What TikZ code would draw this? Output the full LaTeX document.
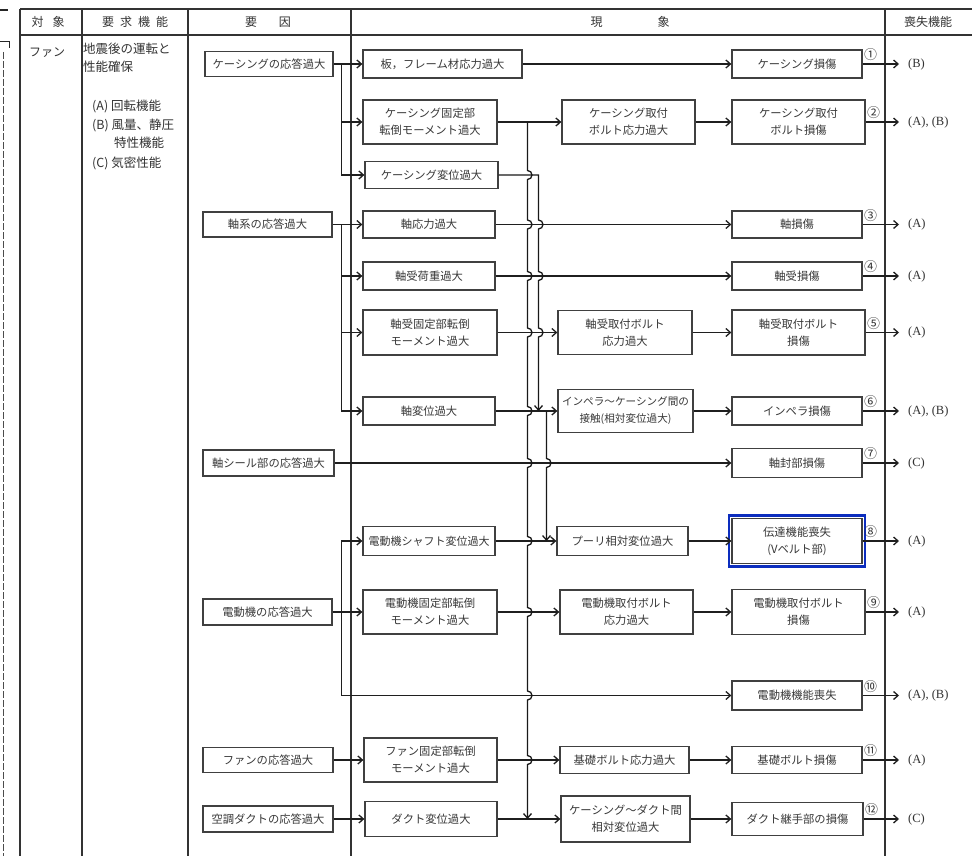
\documentclass[tikz,border=0pt]{standalone}
\usepackage{fontspec}
\setmainfont{Noto Sans CJK JP}
\newfontfamily\latf{Liberation Serif}
\usetikzlibrary{arrows.meta,calc}
\begin{document}
\begin{tikzpicture}[x=1pt,y=-1pt,
  bx/.style={draw=black!75, line width=1.3pt, inner sep=0pt, align=center, text=black!78, font=\fontsize{11.3}{17}\selectfont},
  wh/.style 2 args={minimum width=#1pt, minimum height=#2pt},
  ln/.style={draw=black!88, line width=1.3pt},
  arr/.style={ln, -{Straight Barb[length=4.5pt,width=8pt]}},
  grid/.style={draw=black!80, line width=1.2pt},
  hd/.style={font=\fontsize{12}{14}\selectfont, text=black!80, inner sep=0pt},
  lt/.style={font=\fontsize{12.5}{15}\selectfont, text=black!80, inner sep=0pt, anchor=west},
  cn/.style={font=\fontsize{13}{14}\selectfont, text=black!80, inner sep=0pt},
  lb/.style={font=\latf\fontsize{12.5}{14}\selectfont, text=black!80, anchor=west, inner sep=0pt},
]
\useasboundingbox (0,0) rectangle (972,856);
\fill[white] (0,0) rectangle (972,856);

% scan artefacts at left edge
\draw[line width=1.4pt, black!85] (0,10) -- (8,10);
\draw[line width=1pt, black!85] (0,42) -- (9,42) -- (9,48);
\draw[line width=0.8pt, black!70, dash pattern=on 7pt off 2pt] (3,52) -- (3,856);

% table grid
\draw[grid] (20,9) -- (972,9);
\draw[grid] (20,35) -- (972,35);
\foreach \xx in {20,82,188,351,885} \draw[grid] (\xx,9) -- (\xx,856);

% header
\node[hd] (h1) at (48,22) {対\hspace{9pt}象};
\node[hd] (h2) at (135,22) {要\hspace{6pt}求\hspace{6pt}機\hspace{6pt}能};
\node[hd] (h3) at (268,22) {要\hspace{22pt}因};
\node[hd] (h4) at (630,22) {現\hspace{55pt}象};
\node[hd] (h5) at (928,22) {喪失機能};

% column texts
\node[hd] (fan) at (47,53) {ファン};
\node[lt] (t1) at (83,49) {地震後の運転と};
\node[lt] (t2) at (83,67) {性能確保};
\node[lt] (t3) at (92,106) {(A) 回転機能};
\node[lt] (t4) at (92,125) {(B) 風量、静圧};
\node[lt] (t5) at (114,143) {特性機能};
\node[lt] (t6) at (92,163) {(C) 気密性能};

% factor boxes
\node[bx, wh={128}{25}] (k1) at (269,64) {ケーシングの応答過大};
\node[bx, wh={129}{25}] (k2) at (267.5,224.5) {軸系の応答過大};
\node[bx, wh={131}{26}] (k3) at (268.5,463) {軸シール部の応答過大};
\node[bx, wh={129}{26}] (k4) at (267.5,612) {電動機の応答過大};
\node[bx, wh={130}{25}] (k5) at (268,760) {ファンの応答過大};
\node[bx, wh={130}{26}] (k6) at (268,819) {空調ダクトの応答過大};

% phenomenon boxes, first stage
\node[bx, wh={159}{28}] (m1) at (442.5,64) {板，フレーム材応力過大};
\node[bx, wh={134}{44}] (m2) at (430,122) {ケーシング固定部\\転倒モーメント過大};
\node[bx, wh={133}{27}] (m3) at (431.5,175) {ケーシング変位過大};
\node[bx, wh={132}{27}] (m4) at (429,224.5) {軸応力過大};
\node[bx, wh={132}{28}] (m5) at (429,276) {軸受荷重過大};
\node[bx, wh={134}{45}] (m6) at (430,332.5) {軸受固定部転倒\\モーメント過大};
\node[bx, wh={132}{28}] (m7) at (429,411) {軸変位過大};
\node[bx, wh={132}{29}, font=\fontsize{11}{17}\selectfont] (m8) at (429,541) {電動機シャフト変位過大};
\node[bx, wh={134}{44}] (m9) at (430,612) {電動機固定部転倒\\モーメント過大};
\node[bx, wh={133}{44}] (m10) at (430.5,760) {ファン固定部転倒\\モーメント過大};
\node[bx, wh={132}{35}] (m11) at (431,819) {ダクト変位過大};

% second stage
\node[bx, wh={133}{44}] (n2) at (628.5,122) {ケーシング取付\\ボルト応力過大};
\node[bx, wh={134}{44}] (n6) at (625,332.5) {軸受取付ボルト\\応力過大};
\node[bx, wh={135}{43}, font=\fontsize{10.6}{17}\selectfont] (n7) at (625.5,411) {インペラ〜ケーシング間の\\接触(相対変位過大)};
\node[bx, wh={131}{29}] (n8) at (622.5,541) {プーリ相対変位過大};
\node[bx, wh={133}{44}] (n9) at (626.5,612) {電動機取付ボルト\\応力過大};
\node[bx, wh={129}{27}] (n10) at (624.5,760) {基礎ボルト応力過大};
\node[bx, wh={129}{46}] (n11) at (625.5,819) {ケーシング〜ダクト間\\相対変位過大};

% damage boxes
\node[bx, wh={130}{28}] (r1) at (797,64) {ケーシング損傷};
\node[bx, wh={133}{44}] (r2) at (798.5,122) {ケーシング取付\\ボルト損傷};
\node[bx, wh={130}{27}] (r3) at (797,224.5) {軸損傷};
\node[bx, wh={130}{28}] (r4) at (797,276) {軸受損傷};
\node[bx, wh={133}{45}] (r5) at (798.5,332.5) {軸受取付ボルト\\損傷};
\node[bx, wh={130}{28}] (r6) at (797,411) {インペラ損傷};
\node[bx, wh={130}{29}] (r7) at (797,463) {軸封部損傷};
\node[bx, wh={130}{45}] (r8) at (797,541) {伝達機能喪失\\(Vベルト部)};
\node[bx, wh={133}{45}] (r9) at (798.5,612) {電動機取付ボルト\\損傷};
\node[bx, wh={130}{29}] (r10) at (797,695.5) {電動機機能喪失};
\node[bx, wh={130}{27}] (r11) at (797,760) {基礎ボルト損傷};
\node[bx, wh={131}{33}] (r12) at (797.5,819) {ダクト継手部の損傷};
\draw[draw={rgb,255:red,12;green,45;blue,190}, line width=2.6pt]
  ($(r8.north west)+(-2.5,-2.5)$) rectangle ($(r8.south east)+(2.5,2.5)$);

% factor -> phenomenon
\coordinate (b1) at ($(k1.east)+(8,0)$);
\draw[arr] (k1.east) -- (m1.west);
\draw[arr] (b1) |- (m2.west);
\draw[arr] (b1) |- (m3.west);
\coordinate (b2) at ($(k2.east)+(9,0)$);
\draw[arr] (k2.east) -- (m4.west);
\draw[arr] (b2) |- (m5.west);
\draw[arr] (b2) |- (m6.west);
\draw[arr] (b2) |- (m7.west);
\draw[arr] (k3.east) -- (r7.west);
\coordinate (b4) at ($(k4.east)+(9,0)$);
\draw[arr] (k4.east) -- (m9.west);
\draw[arr] (b4) |- (m8.west);
\draw[arr] (b4) |- (r10.west);
\draw[arr] (k5.east) -- (m10.west);
\draw[arr] (k6.east) -- (m11.west);

% phenomenon chains
\draw[arr] (m1.east) -- (r1.west);
\draw[arr] (m2.east) -- (n2.west);
\draw[arr] (n2.east) -- (r2.west);
\draw[arr] (m4.east) -- (r3.west);
\draw[arr] (m5.east) -- (r4.west);
\draw[arr] (m6.east) -- (n6.west);
\draw[arr] (n6.east) -- (r5.west);
\draw[arr] (m7.east) -- (n7.west);
\draw[arr] (n7.east) -- (r6.west);
\draw[arr] (m8.east) -- (n8.west);
\draw[arr] (n8.east) -- (r8.west);
\draw[arr] (m9.east) -- (n9.west);
\draw[arr] (n9.east) -- (r9.west);
\draw[arr] (m10.east) -- (n10.west);
\draw[arr] (n10.east) -- (r11.west);
\draw[arr] (m11.east) -- (n11.west);
\draw[arr] (n11.east) -- (r12.west);

% vertical buses with line jumps
\coordinate (xA) at (527.5,0);
\coordinate (xB) at (538.5,0);
\coordinate (xC) at (546.5,0);
\draw[arr, line width=1.3pt, draw=black!90] (m2.east -| xA)
  foreach \yy in {175,224.5,276,332.5,411,463,541,612,695.5,760} { -- (527.5,\yy-4.5) arc[start angle=90,end angle=-90,radius=4.5pt] }
  -- (m11.east -| xA);
\draw[arr, line width=1.3pt, draw=black!90] (m3.east) -- (m3.east -| xB)
  foreach \yy in {224.5,276,332.5} { -- (538.5,\yy-4.5) arc[start angle=90,end angle=-90,radius=4.5pt] }
  -- (m7.east -| xB);
\draw[arr, line width=1.3pt, draw=black!90] (m7.east -| xC)
  foreach \yy in {463} { -- (546.5,\yy-4.5) arc[start angle=90,end angle=-90,radius=4.5pt] }
  -- (m8.east -| xC);

% lost functions
\coordinate (xR) at (899,0);
\coordinate (xL) at (908,0);
\foreach \nn/\cc/\ll in {r1/①/(B), r2/②/{(A), (B)}, r3/③/(A), r4/④/(A), r5/⑤/(A), r6/⑥/{(A), (B)}, r7/⑦/(C), r8/⑧/(A), r9/⑨/(A), r10/⑩/{(A), (B)}, r11/⑪/(A), r12/⑫/(C)}{
  \draw[arr] (\nn.east) -- (\nn.east -| xR);
  \node[cn] (c\nn) at ($(\nn.east)+(8,-9)$) {\cc};
  \node[lb] (l\nn) at (\nn.east -| xL) {\ll};
}
\end{tikzpicture}
\end{document}
